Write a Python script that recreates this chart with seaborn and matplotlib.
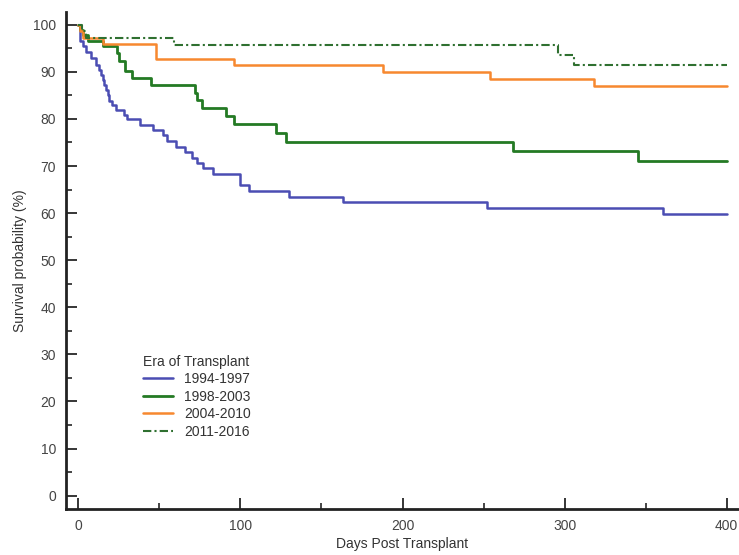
import pandas as pd
import matplotlib.pyplot as plt
from matplotlib.ticker import MultipleLocator
import seaborn as sns

# Kaplan-Meier step curves (days, survival %)
days_1994 = [0, 1, 3, 5, 8, 11, 13, 14, 15, 16, 17, 18, 19, 21, 23, 28, 30, 38, 46, 52,
             55, 60, 66, 70, 73, 77, 83, 100, 105, 130, 163, 252, 361, 400]
surv_1994 = [100, 96.5, 95.4, 94.3, 92.9, 91.5, 90.4, 89.4, 88.2, 87.2, 86.2, 85.1, 83.9,
             83.0, 81.8, 80.9, 80.0, 78.8, 77.7, 76.5, 75.3, 74.1, 73.0, 71.8, 70.6, 69.5,
             68.2, 66.0, 64.7, 63.5, 62.3, 61.1, 59.9, 59.9]

days_1998 = [0, 1, 3, 6, 15, 24, 25, 29, 33, 45, 72, 73, 76, 91, 96, 122, 128, 268, 345, 400]
surv_1998 = [100, 98.9, 97.9, 96.5, 95.4, 94.0, 92.2, 90.1, 88.7, 87.3, 85.5, 84.1, 82.4,
             80.7, 78.9, 77.0, 75.0, 73.2, 71.0, 71.0]

days_2004 = [0, 1, 3, 15, 48, 96, 188, 254, 318, 400]
surv_2004 = [100, 98.6, 97.2, 95.8, 92.7, 91.5, 90.0, 88.4, 86.9, 86.9]

days_2011 = [0, 2, 5, 59, 296, 306, 400]
surv_2011 = [100, 98.6, 97.1, 95.7, 93.5, 91.4, 91.4]

eras = ['1994-1997', '1998-2003', '2004-2010', '2011-2016']
colors = ['#4b4db3', '#247a24', '#f7882f', '#2f7030']

series = [(days_1994, surv_1994), (days_1998, surv_1998),
          (days_2004, surv_2004), (days_2011, surv_2011)]

sns.set_style('ticks')
plt.rcParams['font.family'] = ['Liberation Sans', 'DejaVu Sans']

fig = plt.figure(figsize=(7.39, 5.55), dpi=100)
ax = fig.add_axes([65.7 / 739, 46 / 555, (739 - 65.7) / 739, 497 / 555])

styles = ['-', '-', '-', (0, (4, 1.5, 1, 1.5))]
widths = [1.8, 2.0, 1.8, 1.5]
for era, (d, s), c, ls, lw in zip(eras, series, colors, styles, widths):
    df = pd.DataFrame({'days': d, 'surv': s})
    sns.lineplot(data=df, x='days', y='surv', drawstyle='steps-post', estimator=None,
                 color=c, linestyle=ls, linewidth=lw, label=era, ax=ax)

ax.set_xlim(-7.8, 407.6)
ax.set_ylim(-2.83, 102.7)
ax.xaxis.set_major_locator(MultipleLocator(100))
ax.xaxis.set_minor_locator(MultipleLocator(50))
ax.yaxis.set_major_locator(MultipleLocator(10))
ax.yaxis.set_minor_locator(MultipleLocator(5))
ax.tick_params(which='major', direction='in', length=8, width=1.3, labelsize=10,
               labelcolor='#444444', pad=7)
ax.tick_params(which='minor', direction='in', length=4, width=1.2)

sns.despine(ax=ax)
for side in ['left', 'bottom']:
    ax.spines[side].set_linewidth(2)
    ax.spines[side].set_color('#222222')

ax.set_xlabel('Days Post Transplant', fontsize=10, color='#333333', labelpad=3)
ax.set_ylabel('Survival probability (%)', fontsize=10, color='#333333', labelpad=4)

leg = ax.legend(title='Era of Transplant', loc='upper left', bbox_to_anchor=(0.1, 0.33),
                frameon=False, fontsize=10, title_fontsize=10, handlelength=2.2,
                labelspacing=0.25, borderpad=0.2, alignment='left')
for t in leg.get_texts():
    t.set_color('#333333')
leg.get_title().set_color('#333333')

plt.savefig('out.png', dpi=100)
